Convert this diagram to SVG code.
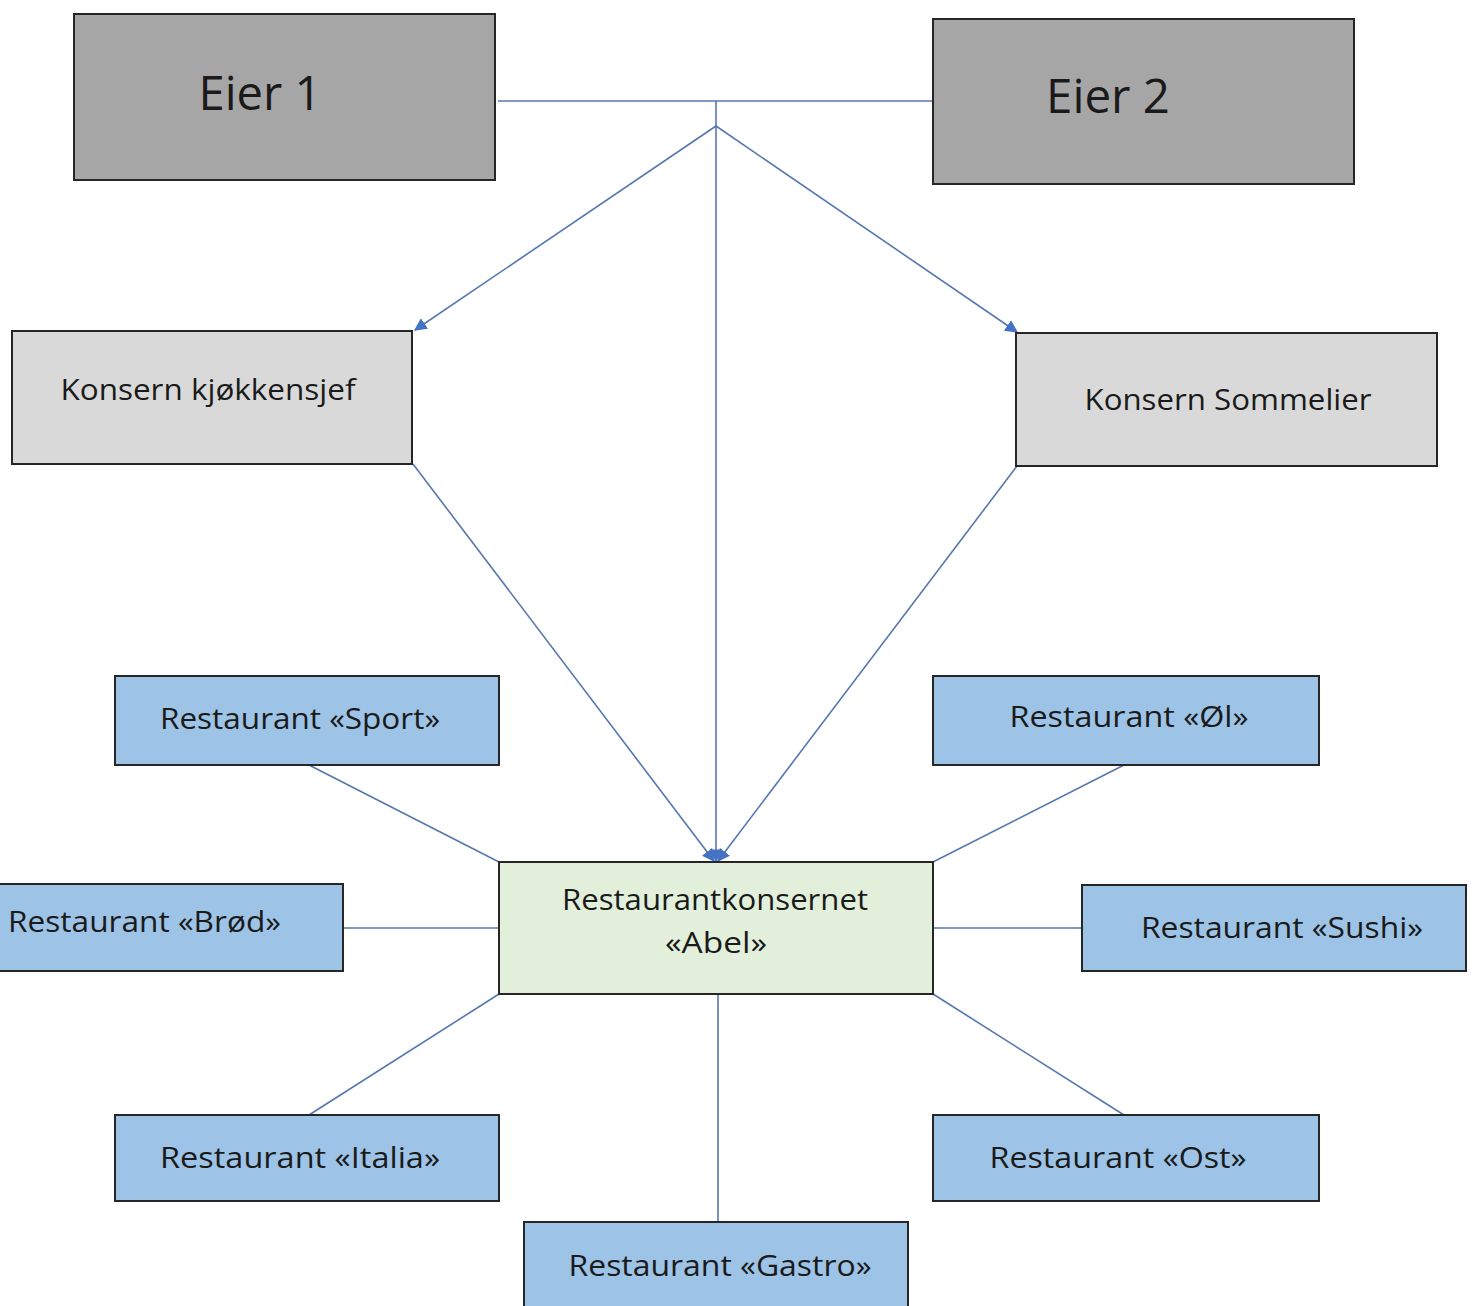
<svg xmlns="http://www.w3.org/2000/svg" width="1473" height="1306" viewBox="0 0 1473 1306">
  <defs>
    <style>
      .box { stroke: #262626; stroke-width: 2; }
      .owner { fill: #a6a6a6; }
      .lead { fill: #d9d9d9; }
      .core { fill: #e2efda; }
      .unit { fill: #9dc3e6; }
      .lbl { font-family: "Open Sans", "Noto Sans", "DejaVu Sans", sans-serif; fill: #1a1a1a; font-size: 29px; }
      .big { font-size: 47px; }
      .link { stroke: #5677ae; stroke-width: 1.6; fill: none; }
    </style>
    <marker id="arrow" viewBox="0 0 10 10" refX="9" refY="5" markerWidth="8" markerHeight="8" markerUnits="strokeWidth" orient="auto">
      <path d="M0,0 L10,5 L0,10 Z" fill="#4472c4"/>
    </marker>
  </defs>

  <rect width="1473" height="1306" fill="#ffffff"/>

  <!-- connectors -->
  <g id="connectors">
    <line class="link" x1="498" y1="101" x2="933" y2="101"/>
    <line class="link" x1="716" y1="101" x2="716" y2="861" marker-end="url(#arrow)"/>
    <line class="link" x1="716" y1="126" x2="415" y2="330" marker-end="url(#arrow)"/>
    <line class="link" x1="716" y1="126" x2="1017" y2="332" marker-end="url(#arrow)"/>
    <line class="link" x1="413" y1="464" x2="714" y2="861" marker-end="url(#arrow)"/>
    <line class="link" x1="1017" y1="466" x2="718" y2="861" marker-end="url(#arrow)"/>
    <line class="link" x1="309" y1="765" x2="499" y2="862"/>
    <line class="link" x1="1124" y1="765" x2="933" y2="862"/>
    <line class="link" x1="343" y1="928" x2="499" y2="928"/>
    <line class="link" x1="1082" y1="928" x2="933" y2="928"/>
    <line class="link" x1="309" y1="1115" x2="499" y2="994"/>
    <line class="link" x1="1124" y1="1115" x2="933" y2="994"/>
    <line class="link" x1="718" y1="1222" x2="718" y2="994"/>
  </g>

  <g id="eier1">
    <rect class="box owner" x="74" y="14" width="421" height="166"/>
    <text class="lbl big" x="260" y="110" text-anchor="middle" textLength="123" lengthAdjust="spacingAndGlyphs">Eier 1</text>
  </g>
  <g id="eier2">
    <rect class="box owner" x="933" y="19" width="421" height="165"/>
    <text class="lbl big" x="1108" y="113" text-anchor="middle" textLength="124" lengthAdjust="spacingAndGlyphs">Eier 2</text>
  </g>

  <g id="kjokkensjef">
    <rect class="box lead" x="12" y="331" width="400" height="133"/>
    <text class="lbl" x="208" y="400" text-anchor="middle" textLength="295" lengthAdjust="spacingAndGlyphs">Konsern kjøkkensjef</text>
  </g>
  <g id="sommelier">
    <rect class="box lead" x="1016" y="333" width="421" height="133"/>
    <text class="lbl" x="1228" y="410" text-anchor="middle" textLength="287" lengthAdjust="spacingAndGlyphs">Konsern Sommelier</text>
  </g>

  <g id="abel">
    <rect class="box core" x="499" y="862" width="434" height="132"/>
    <text class="lbl" x="715" y="910" text-anchor="middle" textLength="306" lengthAdjust="spacingAndGlyphs">Restaurantkonsernet</text>
    <text class="lbl" x="716" y="953" text-anchor="middle" textLength="102" lengthAdjust="spacingAndGlyphs">«Abel»</text>
  </g>

  <g id="sport">
    <rect class="box unit" x="115" y="676" width="384" height="89"/>
    <text class="lbl" x="300" y="729" text-anchor="middle" textLength="280" lengthAdjust="spacingAndGlyphs">Restaurant «Sport»</text>
  </g>
  <g id="ol">
    <rect class="box unit" x="933" y="676" width="386" height="89"/>
    <text class="lbl" x="1129" y="727" text-anchor="middle" textLength="239" lengthAdjust="spacingAndGlyphs">Restaurant «Øl»</text>
  </g>
  <g id="brod">
    <rect class="box unit" x="-2" y="884" width="345" height="87"/>
    <text class="lbl" x="8" y="932" textLength="273" lengthAdjust="spacingAndGlyphs">Restaurant «Brød»</text>
  </g>
  <g id="sushi">
    <rect class="box unit" x="1082" y="885" width="384" height="86"/>
    <text class="lbl" x="1282" y="938" text-anchor="middle" textLength="282" lengthAdjust="spacingAndGlyphs">Restaurant «Sushi»</text>
  </g>
  <g id="italia">
    <rect class="box unit" x="115" y="1115" width="384" height="86"/>
    <text class="lbl" x="300" y="1168" text-anchor="middle" textLength="280" lengthAdjust="spacingAndGlyphs">Restaurant «Italia»</text>
  </g>
  <g id="ost">
    <rect class="box unit" x="933" y="1115" width="386" height="86"/>
    <text class="lbl" x="1118" y="1168" text-anchor="middle" textLength="257" lengthAdjust="spacingAndGlyphs">Restaurant «Ost»</text>
  </g>
  <g id="gastro">
    <rect class="box unit" x="524" y="1222" width="384" height="90"/>
    <text class="lbl" x="720" y="1276" text-anchor="middle" textLength="303" lengthAdjust="spacingAndGlyphs">Restaurant «Gastro»</text>
  </g>
</svg>
